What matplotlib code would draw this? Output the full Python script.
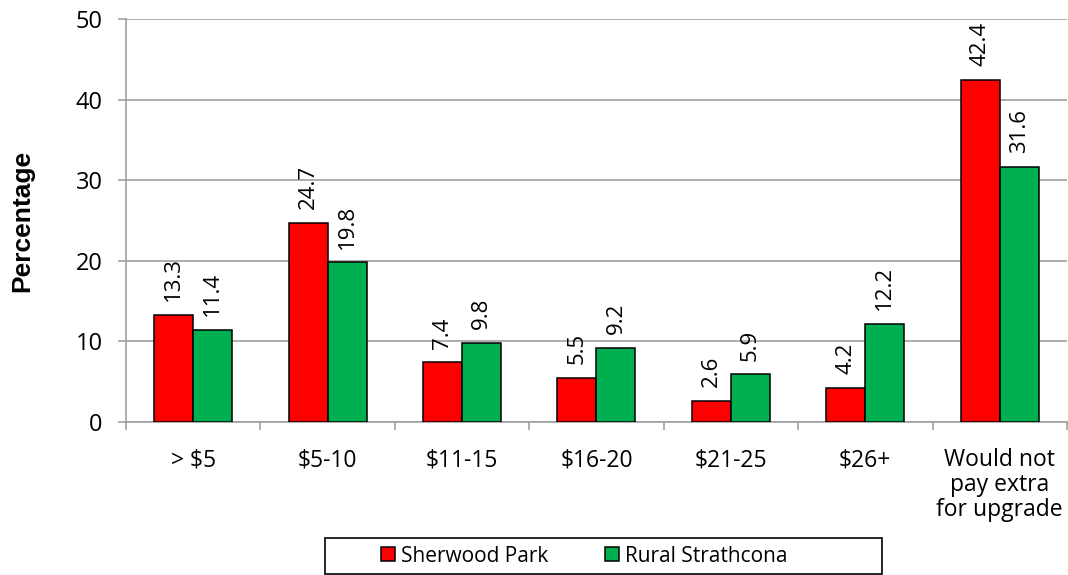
import matplotlib.pyplot as plt
from matplotlib.patches import Rectangle
import numpy as np

# data
categories = ["> $5", "$5-10", "$11-15", "$16-20", "$21-25", "$26+",
              "Would not\npay extra\nfor upgrade"]
sherwood = [13.3, 24.7, 7.4, 5.5, 2.6, 4.2, 42.4]
rural = [11.4, 19.8, 9.8, 9.2, 5.9, 12.2, 31.6]

plt.rcParams['font.family'] = ['Open Sans', 'DejaVu Sans']

fig = plt.figure(figsize=(10.68, 5.75), dpi=100)
ax = fig.add_axes([0.118, 0.266, 0.881, 0.701])

x = np.arange(len(categories))
w = 0.29
b1 = ax.bar(x - w / 2, sherwood, w, color='#ff0000', edgecolor='black', linewidth=1.1,
            label='Sherwood Park', zorder=3)
b2 = ax.bar(x + w / 2, rural, w, color='#00b050', edgecolor='black', linewidth=1.1,
            label='Rural Strathcona', zorder=3)

# value labels, rotated like the original
for bars, vals in [(b1, sherwood), (b2, rural)]:
    for bar, v in zip(bars, vals):
        ax.annotate(f"{v:.1f}", (bar.get_x() + bar.get_width() / 2, v),
                    xytext=(0, 10), textcoords='offset points',
                    rotation=90, ha='center', va='bottom', fontsize=16)

ax.set_xlim(-0.5, len(categories) - 0.5)
ax.set_ylim(0, 50)
ax.set_yticks([0, 10, 20, 30, 40, 50])
ax.yaxis.grid(True, color='#a0a0a0', linewidth=1.2, zorder=0)

# category labels centred, tick marks between categories
ax.set_xticks(x)
ax.set_xticklabels(categories, fontsize=16.5, linespacing=1.05)
ax.tick_params(axis='x', length=0, pad=19)
ax.set_xticks(np.arange(len(categories) + 1) - 0.5, minor=True)
ax.tick_params(axis='x', which='minor', length=5.5, color='#a0a0a0', width=1.2)
ax.tick_params(axis='y', length=5.8, color='#a0a0a0', width=1.2, labelsize=17, pad=11)

for s in ['top', 'right']:
    ax.spines[s].set_visible(False)
for s in ['left', 'bottom']:
    ax.spines[s].set_color('#a0a0a0')
    ax.spines[s].set_linewidth(1.2)

ax.set_ylabel("Percentage", fontsize=19, fontweight='bold',
              family=['Liberation Sans'])
ax.yaxis.set_label_coords(-0.098, 0.5)

leg = fig.legend(loc='center', bbox_to_anchor=(0.547, 0.033), ncol=2,
                 frameon=False, fontsize=15,
                 handlelength=0.67, handleheight=0.67, handletextpad=0.3,
                 columnspacing=2.7)
for h in leg.legend_handles:
    h.set_linewidth(1.1)

# legend box, wider than its entries as in the original
fig.patches.append(Rectangle((0.3043, 0.002), 0.5215, 0.0626, transform=fig.transFigure,
                             fill=False, edgecolor='black', linewidth=1.2))

fig.savefig("out.png", dpi=100)
